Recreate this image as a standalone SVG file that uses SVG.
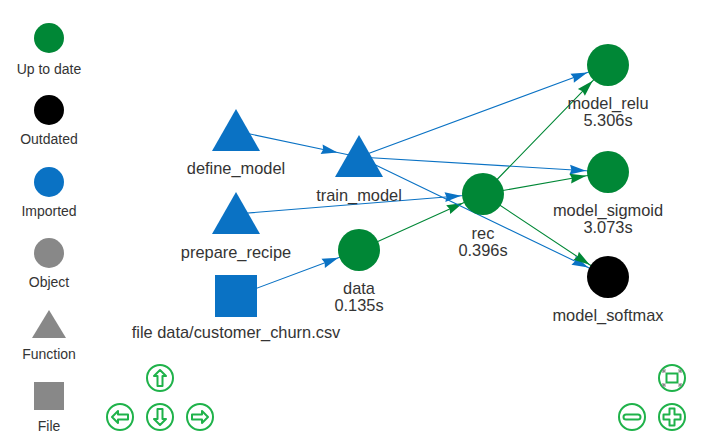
<svg xmlns="http://www.w3.org/2000/svg" width="701" height="443" viewBox="0 0 701 443">
<style>
text{font-family:"Liberation Sans",Arial,sans-serif;font-size:14px;fill:#343434;text-anchor:middle}
.n text{font-size:16.4px}
.g{fill:#008736}.b{fill:#0a72c4}.k{fill:#000}.gr{fill:#888888}
.eb{stroke:#0a72c4;stroke-width:1.1;fill:none;marker-mid:url(#ab)}
.eg{stroke:#008736;stroke-width:1.1;fill:none;marker-mid:url(#ag)}
.nav circle{fill:#fff;stroke:#1fb24a;stroke-width:2}
.nav .i{fill:none;stroke:#1fb24a;stroke-width:2;stroke-linejoin:round}
.nav .c{fill:none;stroke:#888;stroke-width:1.2}
</style>
<defs>
<marker id="ab" markerUnits="userSpaceOnUse" orient="auto" refX="0" refY="0" markerWidth="20" markerHeight="20" viewBox="-15 -6 16 12" overflow="visible"><path d="M0,0 L-13,3.9 L-11.7,0 L-13,-3.9 Z" fill="#0a72c4"/></marker>
<marker id="ag" markerUnits="userSpaceOnUse" orient="auto" refX="0" refY="0" markerWidth="20" markerHeight="20" viewBox="-15 -6 16 12" overflow="visible"><path d="M0,0 L-13,3.9 L-11.7,0 L-13,-3.9 Z" fill="#008736"/></marker>
</defs>
<rect width="701" height="443" fill="#fff"/>
<g id="legend">
<circle class="g" cx="49" cy="38" r="15"/><text x="49" y="74">Up to date</text>
<circle class="k" cx="49" cy="110" r="15"/><text x="49" y="144">Outdated</text>
<circle class="b" cx="49" cy="182" r="15"/><text x="49" y="216">Imported</text>
<circle class="gr" cx="49" cy="253" r="15"/><text x="49" y="287">Object</text>
<polygon class="gr" points="49,310 32,338 66,338"/><text x="49" y="359">Function</text>
<rect class="gr" x="34" y="382" width="30" height="28"/><text x="49" y="431">File</text>
</g>
<g id="edges">
<path class="eb" d="M236,131 L337.5,152.5 L359,157"/>
<path class="eb" d="M236,214 L461.1,195.8 L483,194"/>
<path class="eb" d="M236,296 L338.4,257.7 L359,250"/>
<path class="eg" d="M359,250 L463,203 L483,194"/>
<path class="eb" d="M359,157 L587.4,72.6 L608,65"/>
<path class="eb" d="M359,157 L586,170.7 L608,172"/>
<path class="eb" d="M359,157 L588.2,267.5 L608,277"/>
<path class="eg" d="M483,194 L592.7,80.8 L608,65"/>
<path class="eg" d="M483,194 L586.3,175.8 L608,172"/>
<path class="eg" d="M483,194 L589.7,264.8 L608,277"/>
</g>
<g class="n">
<g id="define_model"><polygon class="b" points="236,109 212,151 260,151"/><text x="236" y="174">define_model</text></g>
<g id="train_model"><polygon class="b" points="359,135 335,177 383,177"/><text x="359" y="201">train_model</text></g>
<g id="prepare_recipe"><polygon class="b" points="236,192 212,234 260,234"/><text x="236" y="258">prepare_recipe</text></g>
<g id="file_data"><rect class="b" x="215" y="275" width="42" height="42"/><text x="236" y="338">file data/customer_churn.csv</text></g>
<g id="data"><circle class="g" cx="359" cy="250" r="21"/><text x="359" y="294">data</text><text x="359" y="311">0.135s</text></g>
<g id="rec"><circle class="g" cx="483" cy="194" r="21"/><text x="483" y="239">rec</text><text x="483" y="256">0.396s</text></g>
<g id="model_relu"><circle class="g" cx="608" cy="65" r="21"/><text x="608" y="109">model_relu</text><text x="608" y="126">5.306s</text></g>
<g id="model_sigmoid"><circle class="g" cx="608" cy="172" r="21"/><text x="608" y="216">model_sigmoid</text><text x="608" y="233">3.073s</text></g>
<g id="model_softmax"><circle class="k" cx="608" cy="277" r="21"/><text x="608" y="321">model_softmax</text></g>
</g>
<g id="navigation" class="nav">
<g transform="translate(160,378)"><circle r="13"/><polygon class="i" points="0,-8 6,-2 2.5,-2 2.5,8 -2.5,8 -2.5,-2 -6,-2"/></g>
<g transform="translate(160,417)"><circle r="13"/><polygon class="i" points="0,8 6,2 2.5,2 2.5,-8 -2.5,-8 -2.5,2 -6,2"/></g>
<g transform="translate(120,417)"><circle r="13"/><polygon class="i" points="-8,0 -2,-6 -2,-2.5 8,-2.5 8,2.5 -2,2.5 -2,6"/></g>
<g transform="translate(200,417)"><circle r="13"/><polygon class="i" points="8,0 2,-6 2,-2.5 -8,-2.5 -8,2.5 2,2.5 2,6"/></g>
<g transform="translate(672,378)"><circle r="13"/><rect class="i" x="-5.5" y="-4.5" width="11" height="9"/>
<path class="c" d="M-9,-5 L-9,-8 L-6,-8 M-9,-8 L-6.5,-5.5 M9,-5 L9,-8 L6,-8 M9,-8 L6.5,-5.5 M-9,5 L-9,8 L-6,8 M-9,8 L-6.5,5.5 M9,5 L9,8 L6,8 M9,8 L6.5,5.5"/></g>
<g transform="translate(632,417)"><circle r="13"/><rect class="i" x="-8.5" y="-2.5" width="17" height="5" rx="2.5"/></g>
<g transform="translate(672,417)"><circle r="13"/><polygon class="i" points="-2.5,-8.5 2.5,-8.5 2.5,-2.5 8.5,-2.5 8.5,2.5 2.5,2.5 2.5,8.5 -2.5,8.5 -2.5,2.5 -8.5,2.5 -8.5,-2.5 -2.5,-2.5"/></g>
</g>
</svg>
